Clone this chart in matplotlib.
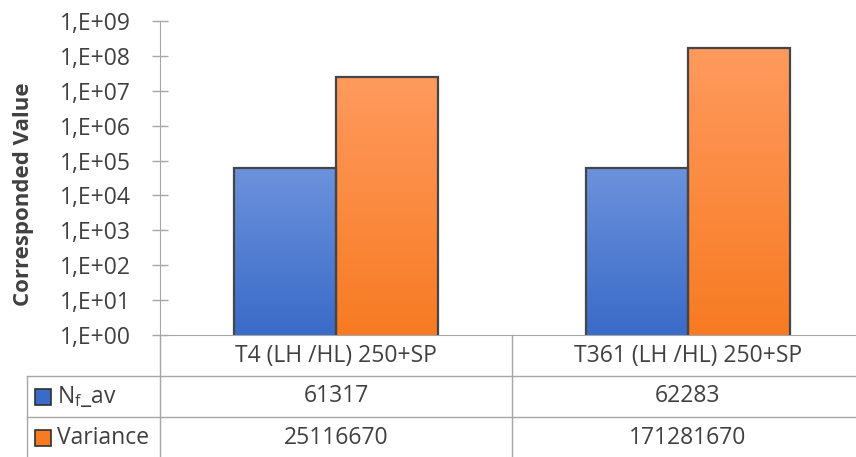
import numpy as np
import matplotlib
matplotlib.use("Agg")
import matplotlib.pyplot as plt
from matplotlib.colors import LinearSegmentedColormap
from matplotlib.patches import Rectangle
from matplotlib.transforms import blended_transform_factory
from matplotlib.ticker import FixedLocator, FuncFormatter

# data
categories = ["T4 (LH /HL) 250+SP", "T361 (LH /HL) 250+SP"]
series_names = [r"N$_\mathrm{f}$_av", "Variance"]
nf_av = [61317, 62283]
variance = [25116670, 171281670]

plt.rcParams["font.family"] = ["Open Sans", "DejaVu Sans"]
plt.rcParams["mathtext.fontset"] = "custom"
plt.rcParams["mathtext.rm"] = "Open Sans"

text_col = "#404040"
line_col = "#a6a6a6"
fs = 16.5

# gradients (top colour, bottom colour)
grads = [("#6c92dc", "#3a6bc8"), ("#ff9a5e", "#f77b22")]

W, H = 856, 457
fig = plt.figure(figsize=(W / 100, H / 100), dpi=100)
ax = fig.add_axes([160 / W, 122 / H, 704 / W, 314 / H])

ax.set_yscale("log")
ax.set_ylim(1, 1e9)
ax.set_xlim(-0.5, 1.5)

x = np.arange(len(categories))
bw = 0.29
all_series = [nf_av, variance]
trans = blended_transform_factory(ax.transData, ax.transAxes)
for s, vals in enumerate(all_series):
    off = (s - 0.5) * bw
    bars = ax.bar(x + off, vals, bw, color="none", edgecolor="#454545",
                  linewidth=1.6, zorder=3)
    cmap = LinearSegmentedColormap.from_list("g%d" % s, [grads[s][1], grads[s][0]])
    for b, v in zip(bars, vals):
        # vertical gradient filling each bar
        top = np.log10(v) / 9.0
        grad = np.linspace(0, 1, 256).reshape(-1, 1)
        im = ax.imshow(grad, cmap=cmap, origin="lower", aspect="auto",
                       extent=(b.get_x(), b.get_x() + b.get_width(), 0, top),
                       transform=trans, zorder=2, interpolation="bilinear")
        im.set_clip_path(b)

ax.set_xlim(-0.5, 1.5)
ax.set_ylim(1, 1e9)

# axes styling
for sp in ["top", "right"]:
    ax.spines[sp].set_visible(False)
ax.spines["left"].set_color(line_col)
ax.spines["bottom"].set_color(line_col)
ax.yaxis.set_major_locator(FixedLocator([10.0 ** k for k in range(10)]))
ax.yaxis.set_minor_locator(FixedLocator([]))
ax.yaxis.set_major_formatter(FuncFormatter(lambda v, p: "1,E+%02d" % int(round(np.log10(v)))))
ax.tick_params(axis="y", direction="inout", length=11.5, width=1, color=line_col,
               labelsize=fs, labelcolor=text_col, pad=15)
ax.tick_params(axis="x", length=0, labelbottom=False)
ax.set_ylabel("Corresponded Value", fontsize=16, fontweight="bold", color=text_col)
ax.yaxis.set_label_coords(-126 / 704, 0.45)

# data table below the axis
row_h = 41 / 314
left_x = (27 - 160) / 704
axt = ax.transAxes
dt = blended_transform_factory(ax.transData, ax.transAxes)

def hline(y):
    ax.plot([left_x, 1.0], [y, y], color=line_col, lw=1, transform=axt, clip_on=False)

def vline(xx, y0, y1, tr):
    ax.plot([xx, xx], [y0, y1], color=line_col, lw=1, transform=tr, clip_on=False)

hline(-row_h)
hline(-2 * row_h)
vline(0, 0, -3.2 * row_h, axt)
vline(left_x, -row_h, -3.2 * row_h, axt)
vline(0.5, 0, -3.2 * row_h, dt)

for i, cat in enumerate(categories):
    ax.text(x[i], -0.5 * row_h, cat, transform=dt, ha="center", va="center",
            fontsize=fs, color=text_col, clip_on=False)
    for s, vals in enumerate(all_series):
        ax.text(x[i], -(s + 1.5) * row_h, str(vals[i]),
                transform=dt, ha="center", va="center", fontsize=fs,
                color=text_col, clip_on=False)

key = 16 / 704
key_h = 16 / 314
for s, name in enumerate(series_names):
    yc = -(s + 1.5) * row_h
    ax.add_patch(Rectangle(((35 - 160) / 704, yc - key_h / 2), key, key_h,
                           transform=axt, facecolor=grads[s][1],
                           edgecolor="#303030", lw=1.2, clip_on=False))
    ax.text((57 - 160) / 704, yc, name, transform=axt, ha="left", va="center",
            fontsize=fs, color=text_col, clip_on=False)

fig.savefig("out.png", dpi=100)
